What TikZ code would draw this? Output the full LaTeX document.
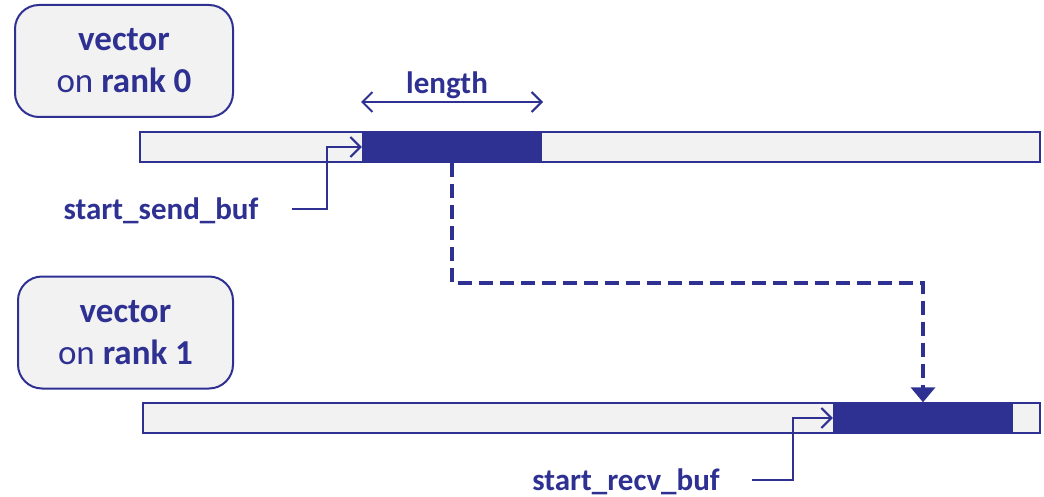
\documentclass[tikz,border=0pt]{standalone}
\usepackage{fontspec}
\setmainfont{Carlito}
\usetikzlibrary{arrows.meta}
\definecolor{navy}{HTML}{2E3192}
\definecolor{pale}{HTML}{F2F2F2}
\begin{document}
\begin{tikzpicture}[x=1pt,y=-1pt,
  rankbox/.style={draw=navy, line width=2pt, fill=pale, rounded corners=24pt,
    minimum width=#1, minimum height=112pt, inner sep=0pt, text=navy,
    align=center, font=\fontsize{35}{42}\selectfont},
  bar/.style={draw=navy, line width=1.6pt, fill=pale, minimum width=#1,
    minimum height=30pt, inner sep=0pt},
  chunk/.style={fill=navy, minimum width=180pt, minimum height=31pt, inner sep=0pt},
  lbl/.style={text=navy, font=\fontsize{31}{36}\selectfont\bfseries, inner sep=0pt, anchor=base},
  pointer/.style={draw=navy, line width=2pt, -{Straight Barb[length=10pt,width=20pt,line width=2pt]}},
  transfer/.style={draw=navy, line width=4.5pt, dash pattern=on 14pt off 7pt,
    -{Triangle[length=15pt,width=24pt]}}
]
\useasboundingbox (0,0) rectangle (1044,497);

% rank 0 vector
\node[rankbox=218pt] (r0) at (124,61) {\textbf{vector}\\on \textbf{rank 0}};
\node[bar=900pt] (bar0) at (590,147) {};
\node[chunk] (blk0) at (452,147) {};

% rank 1 vector
\node[rankbox=215pt] (r1) at (125.5,332.5) {\textbf{vector}\\on \textbf{rank 1}};
\node[bar=897pt] (bar1) at (591.5,418) {};
\node[chunk] (blk1) at (923,418) {};

% length marker
\coordinate (lenL) at (361,102);
\coordinate (lenR) at (543,102);
\draw[navy, line width=2pt, {Straight Barb[length=10pt,width=20pt,line width=2pt]}-{Straight Barb[length=10pt,width=20pt,line width=2pt]}] (lenL) -- (lenR);
\node[lbl] (len) at (447,94) {length};

% buffer start labels
\node[lbl] (send) at (161,219) {start\_send\_buf};
\node[lbl] (recv) at (626,490) {start\_recv\_buf};
\coordinate (sendtail) at (292,209);
\coordinate (recvtail) at (752,480);
\draw[pointer] (sendtail) -- (327,209) |- (blk0.west);
\draw[pointer] (recvtail) -- (793,480) |- (blk1.west);

% transfer from rank 0 to rank 1
\draw[transfer] (blk0.south) -- (452,283) -| (blk1.north);
\end{tikzpicture}
\end{document}
